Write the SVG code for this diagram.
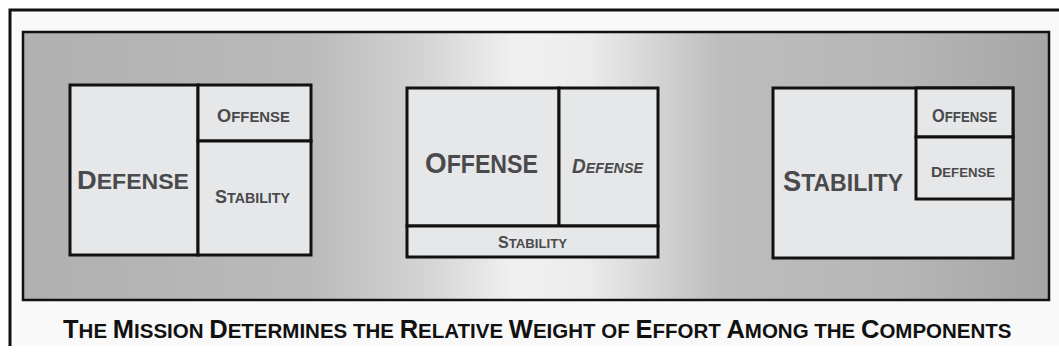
<svg xmlns="http://www.w3.org/2000/svg" width="1059" height="356" viewBox="0 0 1059 356">
  <defs>
    <linearGradient id="panelGrad" x1="23" y1="0" x2="1049" y2="0" gradientUnits="userSpaceOnUse">
      <stop offset="0" stop-color="#b0b0b0"/>
      <stop offset="0.28" stop-color="#bababa"/>
      <stop offset="0.40" stop-color="#d6d6d6"/>
      <stop offset="0.48" stop-color="#f1f1f1"/>
      <stop offset="0.55" stop-color="#ececec"/>
      <stop offset="0.68" stop-color="#bdbdbd"/>
      <stop offset="0.85" stop-color="#b6b6b6"/>
      <stop offset="1" stop-color="#a6a6a6"/>
    </linearGradient>
    <style>
      .frame { fill: none; stroke: #111; stroke-width: 3; }
      .panel { fill: url(#panelGrad); stroke: #111; stroke-width: 2.5; }
      .cell { fill: #e6e7e9; stroke: #111; stroke-width: 3; }
      .lbl { font-family: "Liberation Sans", Arial, sans-serif; font-weight: bold; fill: #4a4a4c; text-anchor: middle; }
      .cap { font-family: "Liberation Sans", Arial, sans-serif; font-weight: bold; fill: #111; }
    </style>
  </defs>

  <rect x="0" y="0" width="1059" height="356" fill="#ffffff"/>
  <rect x="10" y="10" width="1049" height="336" fill="#f9f9f9"/>
  <path class="frame" d="M10,346 V10 H1059"/>

  <rect id="panel" class="panel" x="23" y="32" width="1026" height="268"/>

  <g id="connectors"></g>

  <g id="left-composition">
    <g id="left-defense">
      <rect class="cell" x="70" y="85" width="128" height="170"/>
      <text class="lbl" x="133" y="189" textLength="112" lengthAdjust="spacingAndGlyphs"><tspan font-size="26">D</tspan><tspan font-size="22">EFENSE</tspan></text>
    </g>
    <g id="left-offense">
      <rect class="cell" x="198" y="85" width="113" height="56"/>
      <text class="lbl" x="253.5" y="121.5" textLength="73" lengthAdjust="spacingAndGlyphs"><tspan font-size="19">O</tspan><tspan font-size="15.5">FFENSE</tspan></text>
    </g>
    <g id="left-stability">
      <rect class="cell" x="198" y="141" width="113" height="114"/>
      <text class="lbl" x="252.5" y="202.5" textLength="75" lengthAdjust="spacingAndGlyphs"><tspan font-size="19">S</tspan><tspan font-size="15">TABILITY</tspan></text>
    </g>
  </g>

  <g id="middle-composition">
    <g id="middle-offense">
      <rect class="cell" x="407" y="88" width="152" height="138"/>
      <text class="lbl" x="481.5" y="173" textLength="113" lengthAdjust="spacingAndGlyphs"><tspan font-size="30">O</tspan><tspan font-size="25">FFENSE</tspan></text>
    </g>
    <g id="middle-defense">
      <rect class="cell" x="559" y="88" width="99" height="138"/>
      <text class="lbl" x="607.5" y="173" font-style="italic" textLength="71" lengthAdjust="spacingAndGlyphs"><tspan font-size="20.5">D</tspan><tspan font-size="15.5">EFENSE</tspan></text>
    </g>
    <g id="middle-stability">
      <rect class="cell" x="407" y="226" width="251" height="31"/>
      <text class="lbl" x="532.5" y="248" textLength="69" lengthAdjust="spacingAndGlyphs"><tspan font-size="16.5">S</tspan><tspan font-size="13.5">TABILITY</tspan></text>
    </g>
  </g>

  <g id="right-composition">
    <g id="right-stability">
      <rect class="cell" x="773" y="88" width="240" height="170"/>
      <text class="lbl" x="843" y="191" textLength="120" lengthAdjust="spacingAndGlyphs"><tspan font-size="29">S</tspan><tspan font-size="24.5">TABILITY</tspan></text>
    </g>
    <g id="right-offense">
      <rect class="cell" x="916" y="88" width="97" height="49"/>
      <text class="lbl" x="964.5" y="121.5" textLength="65" lengthAdjust="spacingAndGlyphs"><tspan font-size="18.5">O</tspan><tspan font-size="15">FFENSE</tspan></text>
    </g>
    <g id="right-defense">
      <rect class="cell" x="916" y="137" width="97" height="62"/>
      <text class="lbl" x="963" y="176.5" textLength="64" lengthAdjust="spacingAndGlyphs"><tspan font-size="15.5">D</tspan><tspan font-size="13">EFENSE</tspan></text>
    </g>
  </g>

  <g id="caption">
    <text class="cap" x="63" y="338"><tspan font-size="25.5">T</tspan><tspan font-size="20.5">HE </tspan><tspan font-size="25.5">M</tspan><tspan font-size="20.5">ISSION </tspan><tspan font-size="25.5">D</tspan><tspan font-size="20.5">ETERMINES THE </tspan><tspan font-size="25.5">R</tspan><tspan font-size="20.5">ELATIVE </tspan><tspan font-size="25.5">W</tspan><tspan font-size="20.5">EIGHT OF </tspan><tspan font-size="25.5">E</tspan><tspan font-size="20.5">FFORT </tspan><tspan font-size="25.5">A</tspan><tspan font-size="20.5">MONG THE </tspan><tspan font-size="25.5">C</tspan><tspan font-size="20.5">OMPONENTS</tspan></text>
  </g>
</svg>
